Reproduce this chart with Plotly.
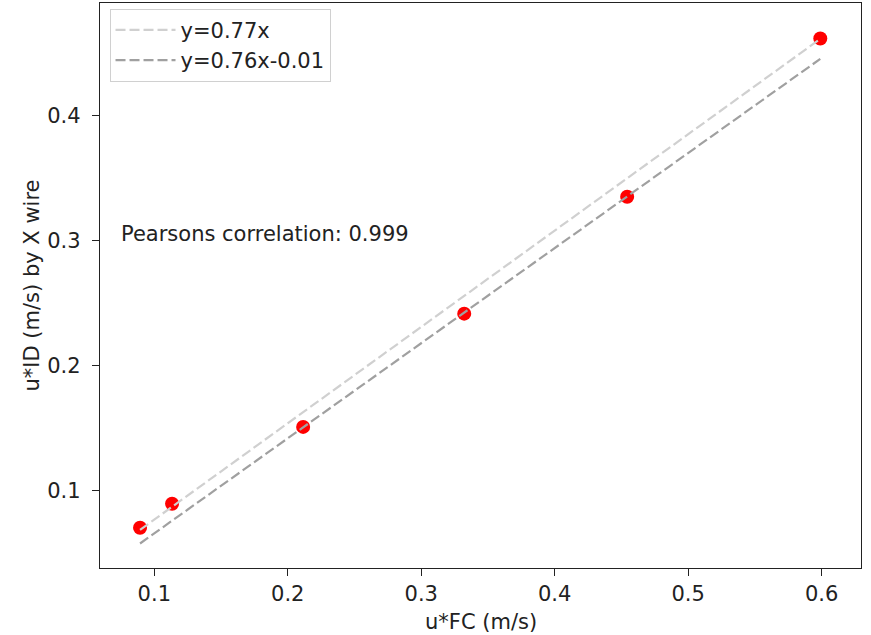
import plotly.graph_objects as go

# Data
u_fc = [0.0893, 0.1133, 0.2115, 0.3322, 0.4543, 0.5990]
u_xwire = [0.0705, 0.0897, 0.1511, 0.2416, 0.3350, 0.4615]

fit1_label = "y=0.77x"
fit1_slope, fit1_icpt = 0.77, 0.0
fit2_label = "y=0.76x-0.01"
fit2_slope, fit2_icpt = 0.76, -0.01

pearson_text = "Pearsons correlation: 0.999"
x_title = "u*FC (m/s)"
y_title = "u*ID (m/s) by X wire"
x_ticks = [0.1, 0.2, 0.3, 0.4, 0.5, 0.6]
y_ticks = [0.1, 0.2, 0.3, 0.4]

fit1 = [fit1_slope * v + fit1_icpt for v in u_fc]
fit2 = [fit2_slope * v + fit2_icpt for v in u_fc]

FONT = "DejaVu Sans"
FS = 21
TXT = "#222222"

fig = go.Figure()
fig.add_trace(go.Scatter(
    x=u_fc, y=u_xwire, mode="markers", showlegend=False,
    marker=dict(color="red", size=14, symbol="circle", line=dict(width=0)),
))
fig.add_trace(go.Scatter(
    x=u_fc, y=fit1, mode="lines", name=fit1_label,
    line=dict(color="#d0d0d0", width=2.2, dash="10px,4px"),
))
fig.add_trace(go.Scatter(
    x=u_fc, y=fit2, mode="lines", name=fit2_label,
    line=dict(color="#a0a0a0", width=2.2, dash="10px,4px"),
))

fig.add_annotation(
    x=0.0735, y=0.3055, xref="x", yref="y", text=pearson_text,
    showarrow=False, xanchor="left", yanchor="middle",
    font=dict(family=FONT, size=FS, color=TXT),
)
# x-axis title just below the tick labels, at the bottom edge as in the reference
fig.add_annotation(
    x=0.5, y=-0.096, xref="paper", yref="paper", text=x_title,
    showarrow=False, xanchor="center", yanchor="middle",
    font=dict(family=FONT, size=FS, color=TXT),
)

axis_common = dict(
    showline=True, mirror=True, linecolor="#222222", linewidth=1.3,
    ticks="outside", ticklen=7, tickwidth=1.3, tickcolor="#222222",
    showgrid=False, zeroline=False,
    tickfont=dict(family=FONT, size=FS, color=TXT),
    automargin=False,
)

fig.update_layout(
    width=871, height=635,
    margin=dict(l=100, r=10, t=3, b=67),
    paper_bgcolor="white", plot_bgcolor="white",
    font=dict(family=FONT, size=FS, color=TXT),
    xaxis=dict(
        range=[0.0593, 0.6295], tickvals=x_ticks,
        ticktext=[f"{v:.1f}" for v in x_ticks],
        **axis_common,
    ),
    yaxis=dict(
        range=[0.0383, 0.4899], tickvals=y_ticks,
        ticktext=[f"{v:.1f}" for v in y_ticks],
        ticklabelstandoff=7,
        title=dict(text=y_title, standoff=1,
                   font=dict(family=FONT, size=FS, color=TXT)),
        **axis_common,
    ),
    legend=dict(
        x=0.0125, y=0.99, xanchor="left", yanchor="top",
        bgcolor="rgba(255,255,255,0.8)", bordercolor="#d0d0d0", borderwidth=1,
        font=dict(family=FONT, size=FS, color=TXT),
        tracegroupgap=0, itemwidth=60,
    ),
)

fig.write_html("out.html", config={"displayModeBar": False},
               post_script="document.body.style.margin='0';")
